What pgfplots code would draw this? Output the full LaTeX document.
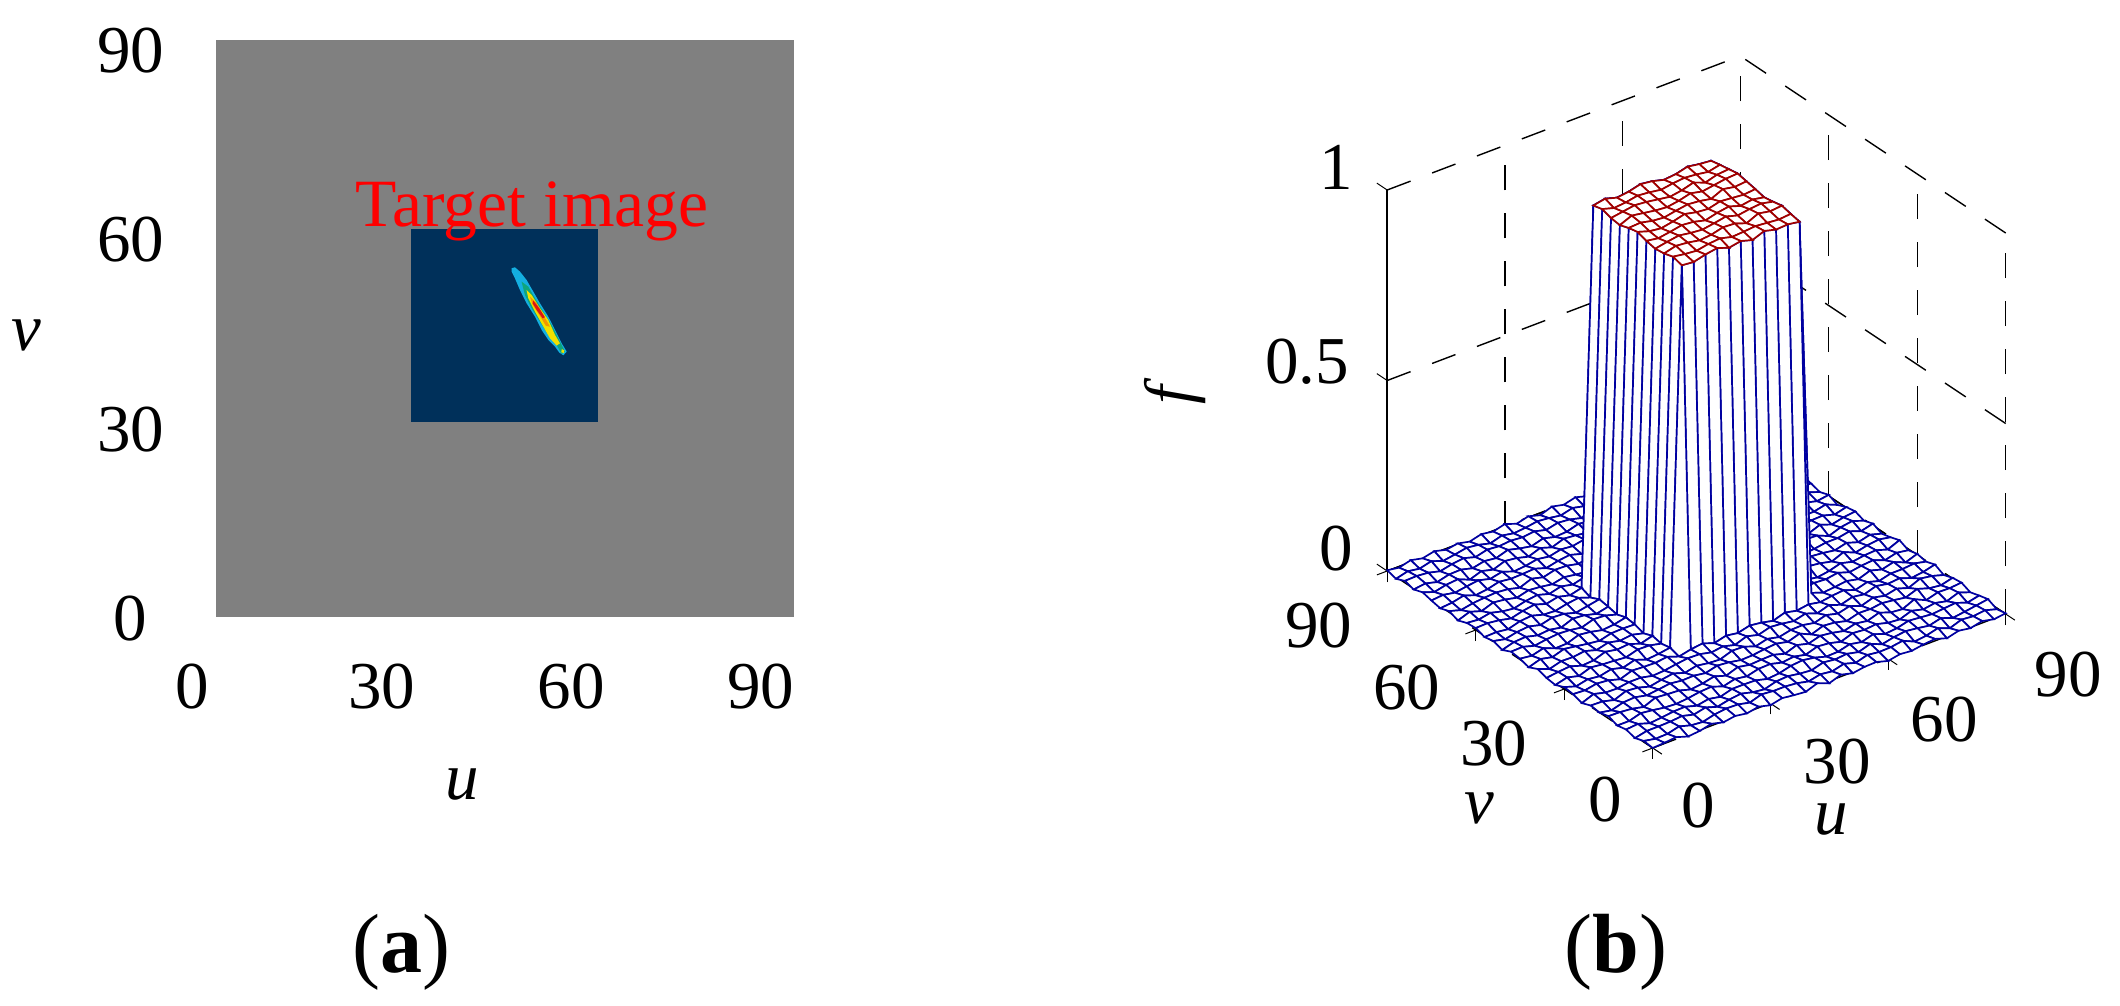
\documentclass[border=0pt]{standalone}
\usepackage{fontspec}
\setmainfont{Liberation Serif}
\usepackage{pgfplots}
\pgfplotsset{compat=1.18}
\newcommand{\tl}[3]{\smash{\raisebox{\dimexpr#2pt-11.3pt\relax}{\hbox to 0pt{\hss\kern#1pt\kern#1pt #3\hss}}}}
\definecolor{meshblue}{RGB}{0,0,160}
\definecolor{meshred}{RGB}{160,0,0}
\definecolor{imgdark}{RGB}{0,48,90}
\begin{document}
\begin{tikzpicture}
\fontsize{33.5}{40}\selectfont
\useasboundingbox (0pt,0pt) rectangle (1060pt,503pt);
\begin{axis}[at={(96pt,194pt)},anchor=south west,scale only axis,width=284.5pt,height=284pt,
  xmin=0,xmax=90,ymin=0,ymax=90,clip=false,
  axis line style={draw=none},tick style={draw=none},
  xtick={0,30,60,90},ytick={0,30,60,90},
  xticklabels={\tl{0}{-33.85}{0},\tl{0}{-33.85}{30},\tl{0}{-33.85}{60},\tl{0}{-33.85}{90}},
  yticklabels={\tl{-30.65}{0}{0},\tl{-30.65}{0}{30},\tl{-30.65}{0}{60},\tl{-30.65}{0}{90}},
  every tick label/.append style={anchor=center,inner sep=0pt},
  xlabel={\textit{u}},ylabel={\textit{v}},
  xlabel style={at={(axis description cs:.4757,-.294)},anchor=center},
  ylabel style={at={(axis description cs:-.2905,.498)},anchor=center,rotate=-90},
]
\addplot[draw=none,fill={rgb,255:red,128;green,128;blue,128}] coordinates {(3.8,.16) (95.2,.16) (95.2,91.6) (3.8,91.6)};
\addplot[draw=none,fill=imgdark] coordinates {(34.64,31.06) (64.2,31.06) (64.2,61.64) (34.64,61.64)};
\addplot[draw=none,fill={rgb,255:red,20;green,175;blue,225}] coordinates {(50.55,55.42) (51.08,55.57) (51.87,54.89) (52.92,53.57) (53.98,51.72) (55.04,49.87) (56.36,47.75) (57.42,45.64) (58.47,43.53) (59.27,42.21) (58.74,41.63) (58.1,42.05) (57.42,43) (56.36,44.06) (55.3,45.64) (54.25,47.75) (52.92,49.87) (51.87,51.98) (51.08,53.83) (50.55,54.89)};
\addplot[draw=none,fill={rgb,255:red,15;green,165;blue,125}] coordinates {(52.13,53.3) (53.19,52.51) (54.25,50.66) (55.57,48.55) (56.89,46.43) (57.94,44.32) (59,42.21) (58.47,41.84) (57.68,43.26) (56.36,44.85) (55.04,46.96) (53.72,49.08) (52.66,51.19)};
\addplot[draw=none,fill={rgb,255:red,240;green,225;blue,0}] coordinates {(52.92,51.98) (53.72,51.19) (55.04,49.08) (56.36,47.23) (57.42,44.85) (58.2,43.53) (57.68,43.16) (56.62,44.32) (55.57,46.17) (54.25,48.55) (53.19,50.66)};
\addplot[draw=none,fill={rgb,255:red,245;green,150;blue,0}] coordinates {(53.45,50.92) (54.51,49.87) (55.57,48.02) (56.62,46.17) (55.99,46.28) (54.93,48.02) (53.88,49.6)};
\addplot[draw=none,fill={rgb,255:red,220;green,20;blue,20}] coordinates {(53.98,50.29) (54.93,49.08) (55.83,47.65) (55.46,47.49) (54.51,48.81) (53.88,49.87)};
\addplot[draw=none,fill={rgb,255:red,240;green,225;blue,0}] coordinates {(58.5,42.6) (58.9,42.4) (58.8,42) (58.4,42.1)};
\node[red,anchor=base,font=\fontsize{33.8}{40}\selectfont] at (axis cs:53.8,62) {Target image};
\end{axis}
\begin{axis}[at={(693.6pt,129pt)},anchor=south west,
  x={(1.9611pt,.7444pt)},y={(-1.475pt,.9833pt)},z={(0pt,190.5pt)},
  xmin=0,xmax=90,ymin=0,ymax=90,zmin=0,zmax=1,clip=false,
  axis line style={draw=none},
  tick style={black,line width=.5pt},major tick length=11pt,tick align=center,
  xtick pos=lower,ytick pos=lower,ztick pos=left,ztick style={draw=none},
  grid=major,grid style={black,line width=.7pt,dash pattern=on 12.5pt off 11.5pt},
  xtick={0,30,60,90},ytick={0,30,60,90},ztick={0,.5,1},
  xticklabels={\tl{18}{-25.5}{0},\tl{28.8}{-25.9}{30},\tl{23.4}{-27}{60},\tl{26.6}{-27}{90}},
  yticklabels={\tl{-18.6}{-23.5}{0},\tl{-30.1}{-24.9}{30},\tl{-29.4}{-26.5}{60},\tl{-29.1}{-24.9}{90}},
  zticklabels={\tl{-21}{8.6}{0},\tl{-35.5}{6.6}{0.5},\tl{-21}{8.6}{1}},
  every tick label/.append style={anchor=center,inner sep=0pt},
  xlabel={\textit{u}},ylabel={\textit{v}},
  xlabel style={at={(rel axis cs:.5,0,0)},anchor=center,xshift=1.25pt,yshift=-69.5pt,rotate=0},
  ylabel style={at={(rel axis cs:0,.5,0)},anchor=center,xshift=-20.4pt,yshift=-74.4pt,rotate=0},
  colormap={whitemap}{color=(white) color=(white)},point meta=0,point meta min=0,point meta max=1,
]
\node[anchor=center,xshift=-106pt,yshift=-5.6pt,rotate=90] at (axis cs:0,90,.5) {\textit{f}};
\addplot3[black,line width=.85pt] coordinates {(0,90,0) (0,90,1)};
\addplot3[black,line width=.5pt] coordinates {(0,90,1) (0,93.5,1)};
\addplot3[black,line width=.5pt] coordinates {(0,90,.5) (0,93.5,.5)};
\addplot3[black,line width=.5pt] coordinates {(0,90,0) (0,93.5,0)};
\addplot3[surf,shader=faceted,faceted color=meshblue,line width=.85pt,z buffer=none,mesh/rows=31,mesh/cols=31] table {
90 90 .003
90 87 -.005
90 84 .006
90 81 .002
90 78 -.006
90 75 .005
90 72 -.003
90 69 .008
90 66 .002
90 63 -.005
90 60 .003
90 57 -.008
90 54 .002
90 51 .006
90 48 -.003
90 45 .005
90 42 -.006
90 39 .000
90 36 .008
90 33 -.003
90 30 .003
90 27 -.002
90 24 .006
90 21 -.006
90 18 .002
90 15 .005
90 12 -.005
90 9 .002
90 6 .008
90 3 -.003
90 0 .002
87 90 -.003
87 87 .006
87 84 -.002
87 81 .005
87 78 .008
87 75 -.005
87 72 .002
87 69 -.006
87 66 .003
87 63 .006
87 60 -.002
87 57 .005
87 54 -.006
87 51 .002
87 48 .008
87 45 -.003
87 42 .003
87 39 .006
87 36 -.005
87 33 .002
87 30 -.008
87 27 .005
87 24 -.002
87 21 .003
87 18 -.006
87 15 .002
87 12 .006
87 9 -.005
87 6 .003
87 3 .006
87 0 -.002
84 90 .005
84 87 -.003
84 84 .008
84 81 -.006
84 78 .002
84 75 .005
84 72 -.003
84 69 .006
84 66 -.008
84 63 .002
84 60 .006
84 57 -.002
84 54 .003
84 51 -.005
84 48 .003
84 45 .008
84 42 -.005
84 39 .002
84 36 .005
84 33 -.006
84 30 .005
84 27 .002
84 24 -.006
84 21 .008
84 18 -.002
84 15 .003
84 12 -.005
84 9 .006
84 6 -.002
84 3 .002
84 0 .005
81 90 -.002
81 87 .003
81 84 -.006
81 81 .002
81 78 .006
81 75 -.005
81 72 .005
81 69 -.002
81 66 .003
81 63 -.006
81 60 .008
81 57 -.003
81 54 .002
81 51 .006
81 48 -.008
81 45 .002
81 42 .005
81 39 -.005
81 36 .003
81 33 .006
81 30 -.003
81 27 .002
81 24 .005
81 21 -.005
81 18 .008
81 15 -.006
81 12 .002
81 9 .003
81 6 -.006
81 3 .005
81 0 -.002
78 90 .005
78 87 -.005
78 84 .002
78 81 .006
78 78 -.003
78 75 .008
78 72 -.006
78 69 .003
78 66 .002
78 63 .005
78 60 -.005
78 57 .006
78 54 -.002
78 51 -.006
78 48 .005
78 45 .002
78 42 -.003
78 39 .008
78 36 -.002
78 33 .003
78 30 .006
78 27 -.006
78 24 .002
78 21 .005
78 18 -.003
78 15 .008
78 12 -.003
78 9 .000
78 6 .005
78 3 -.006
78 0 .003
75 90 -.006
75 87 .002
75 84 .005
75 81 -.003
75 78 .008
75 75 -.002
75 72 .003
75 69 -.005
75 66 .006
75 63 -.002
75 60 .003
75 57 .002
75 54 -.008
75 51 .005
75 48 .006
75 45 -.003
75 42 .002
75 39 -.005
75 36 .006
75 33 -.002
75 30 -.005
75 27 .003
75 24 .008
75 21 -.002
75 18 .002
75 15 -.006
75 12 .005
75 9 .003
75 6 -.003
75 3 .006
75 0 -.005
72 90 .002
72 87 .006
72 84 -.005
72 81 .002
72 78 -.006
72 75 .005
72 72 .003
72 69 -.002
72 66 -.006
72 63 .008
72 60 .002
72 57 -.005
72 54 .006
72 51 -.002
72 48 .003
72 45 -.006
72 42 .005
72 39 .002
72 36 -.003
72 33 .008
72 30 .002
72 27 -.006
72 24 -.002
72 21 .005
72 18 .006
72 15 -.003
72 12 -.006
72 9 .006
72 6 .002
72 3 -.002
72 0 .005
69 90 -.005
69 87 .002
69 84 .006
69 81 -.003
69 78 .005
69 75 -.008
69 72 .006
69 69 .002
69 66 .003
69 63 -.005
69 60 .003
69 57 .008
69 54 -.002
69 51 -.006
69 48 .005
69 45 .002
69 42 -.003
69 39 .006
69 36 -.008
69 33 .003
69 30 -.002
69 27 .005
69 24 .003
69 21 -.005
69 18 .002
69 15 .008
69 12 -.003
69 9 -.002
69 6 .006
69 3 -.006
69 0 .002
66 90 .006
66 87 -.003
66 84 -.002
66 81 .006
66 78 .002
66 75 -.005
66 72 .002
66 69 .005
66 66 -.006
66 63 .003
66 60 -.002
66 57 .005
66 54 .006
66 51 -.003
66 48 .002
66 45 -.006
66 42 .008
66 39 .003
66 36 -.002
66 33 .005
66 30 -.005
66 27 .002
66 24 -.006
66 21 .006
66 18 .003
66 15 -.002
66 12 .005
66 9 -.005
66 6 .002
66 3 .008
66 0 -.003
63 90 -.002
63 87 .005
63 84 .003
63 81 -.006
63 78 .003
63 75 .006
63 72 -.002
63 69 -.005
63 66 .006
63 63 .002
63 60 .005
63 57 -.003
63 54 .002
63 51 .006
63 48 -.005
63 45 .003
63 42 .002
63 39 -.006
63 36 .005
63 33 .002
63 30 .006
63 27 -.003
63 24 .005
63 21 -.002
63 18 -.006
63 15 .003
63 12 .002
63 9 .006
63 6 -.005
63 3 .003
63 0 .000
60 90 .003
60 87 -.006
60 84 .002
60 81 .005
60 78 -.002
60 75 .000
60 72 .006
60 69 -.003
60 66 .002
60 63 -.005
60 60 .997
60 57 1.002
60 54 1.006
60 51 1.010
60 48 1.005
60 45 1
60 42 .994
60 39 .998
60 36 1.003
60 33 .997
60 30 .992
60 27 .003
60 24 -.005
60 21 .006
60 18 .002
60 15 -.005
60 12 .005
60 9 -.003
60 6 .008
60 3 .002
60 0 -.006
57 90 -.005
57 87 .003
57 84 .008
57 81 -.002
57 78 .005
57 75 -.006
57 72 .002
57 69 .006
57 66 -.005
57 63 .003
57 60 1
57 57 .995
57 54 1.003
57 51 1.008
57 48 1.002
57 45 .997
57 42 1
57 39 1.005
57 36 1
57 33 .994
57 30 .997
57 27 -.002
57 24 .006
57 21 -.003
57 18 .005
57 15 .002
57 12 -.006
57 9 .003
57 6 -.002
57 3 .006
57 0 .003
54 90 .002
54 87 .006
54 84 -.005
54 81 .003
54 78 -.006
54 75 .005
54 72 .002
54 69 -.003
54 66 .006
54 63 -.002
54 60 1.005
54 57 1
54 54 .994
54 51 1.003
54 48 1.008
54 45 1
54 42 .995
54 39 1.002
54 36 1.006
54 33 .997
54 30 .995
54 27 .005
54 24 -.002
54 21 .003
54 18 -.006
54 15 .006
54 12 .002
54 9 -.005
54 6 .005
54 3 -.003
54 0 .002
51 90 -.003
51 87 .002
51 84 .005
51 81 -.006
51 78 .003
51 75 .002
51 72 -.005
51 69 .005
51 66 -.002
51 63 .006
51 60 .997
51 57 1.003
51 54 1.006
51 51 .998
51 48 .994
51 45 1.003
51 42 1.005
51 39 .997
51 36 .992
51 33 1
51 30 1.003
51 27 -.005
51 24 .003
51 21 .002
51 18 .008
51 15 -.003
51 12 .005
51 9 -.006
51 6 .002
51 3 .006
51 0 -.003
48 90 .006
48 87 -.002
48 84 .003
48 81 .002
48 78 -.005
48 75 .006
48 72 .003
48 69 -.006
48 66 .002
48 63 -.003
48 60 .994
48 57 1
48 54 .997
48 51 1.005
48 48 1
48 45 .995
48 42 1
48 39 1.006
48 36 1.003
48 33 .997
48 30 .991
48 27 .002
48 24 .006
48 21 -.005
48 18 -.002
48 15 .005
48 12 -.005
48 9 .003
48 6 .006
48 3 -.002
48 0 .005
45 90 -.002
45 87 .005
45 84 -.006
45 81 .002
45 78 .008
45 75 -.003
45 72 .000
45 69 .005
45 66 -.005
45 63 .003
45 60 1.002
45 57 .995
45 54 .992
45 51 .997
45 48 1.003
45 45 .998
45 42 .992
45 39 1
45 36 1.005
45 33 .995
45 30 1
45 27 .006
45 24 -.003
45 21 .002
45 18 .005
45 15 -.006
45 12 .002
45 9 .008
45 6 -.003
45 3 .002
45 0 -.006
42 90 .005
42 87 -.003
42 84 .002
42 81 .006
42 78 -.002
42 75 -.005
42 72 .003
42 69 .002
42 66 .006
42 63 -.006
42 60 1.006
42 57 1
42 54 .997
42 51 .992
42 48 .998
42 45 1.005
42 42 1
42 39 .995
42 36 .997
42 33 1.003
42 30 .994
42 27 -.002
42 24 .005
42 21 -.006
42 18 .002
42 15 .003
42 12 -.002
42 9 .005
42 6 .000
42 3 -.005
42 0 .006
39 90 -.006
39 87 .002
39 84 .005
39 81 -.003
39 78 .003
39 75 .008
39 72 -.002
39 69 .003
39 66 -.005
39 63 .002
39 60 .998
39 57 1.003
39 54 1.002
39 51 .995
39 48 .992
39 45 .997
39 42 1.003
39 39 .998
39 36 .994
39 33 1
39 30 1.005
39 27 .003
39 24 -.006
39 21 .005
39 18 -.002
39 15 .002
39 12 .006
39 9 -.003
39 6 .005
39 3 .002
39 0 -.005
36 90 .003
36 87 .005
36 84 -.002
36 81 -.005
36 78 .006
36 75 .002
36 72 -.003
36 69 .006
36 66 .002
36 63 -.003
36 60 .994
36 57 .997
36 54 1.005
36 51 1
36 48 .995
36 45 .991
36 42 .997
36 39 1.003
36 36 1
36 33 .994
36 30 1
36 27 -.005
36 24 .002
36 21 .006
36 18 -.003
36 15 .000
36 12 .005
36 9 -.006
36 6 .003
36 3 .005
36 0 -.002
33 90 -.005
33 87 .000
33 84 .006
33 81 .003
33 78 -.005
33 75 .005
33 72 .006
33 69 -.002
33 66 -.006
33 63 .005
33 60 1.003
33 57 .994
33 54 1
33 51 1.005
33 48 1.002
33 45 .995
33 42 .992
33 39 .998
33 36 1.003
33 33 .997
33 30 .992
33 27 .006
33 24 -.002
33 21 -.005
33 18 .003
33 15 .006
33 12 -.003
33 9 .002
33 6 -.006
33 3 .005
33 0 .002
30 90 .006
30 87 -.003
30 84 .002
30 81 -.006
30 78 .005
30 75 -.002
30 72 .002
30 69 .005
30 66 -.003
30 63 .006
30 60 .997
30 57 1.003
30 54 .995
30 51 .992
30 48 1
30 45 1.005
30 42 .997
30 39 .992
30 36 .995
30 33 1.002
30 30 .995
30 27 .002
30 24 .005
30 21 -.003
30 18 .006
30 15 -.005
30 12 .002
30 9 .003
30 6 -.002
30 3 .008
30 0 -.005
27 90 -.002
27 87 .003
27 84 .005
27 81 .000
27 78 -.006
27 75 .003
27 72 -.005
27 69 .006
27 66 .002
27 63 -.002
27 60 .005
27 57 -.005
27 54 .006
27 51 .002
27 48 -.003
27 45 .005
27 42 .002
27 39 -.006
27 36 .003
27 33 -.002
27 30 .003
27 27 -.005
27 24 .006
27 21 .002
27 18 -.002
27 15 .005
27 12 -.006
27 9 .003
27 6 .006
27 3 -.002
27 0 .003
24 90 .003
24 87 -.006
24 84 .002
24 81 .008
24 78 .002
24 75 -.003
24 72 .005
24 69 -.002
24 66 -.005
24 63 .005
24 60 -.003
24 57 .006
24 54 .000
24 51 -.005
24 48 .006
24 45 -.002
24 42 .003
24 39 .002
24 36 -.006
24 33 .005
24 30 -.002
24 27 .006
24 24 .002
24 21 -.005
24 18 .003
24 15 -.002
24 12 .005
24 9 -.006
24 6 .002
24 3 .005
24 0 -.003
21 90 -.005
21 87 .002
21 84 .005
21 81 -.002
21 78 .006
21 75 -.006
21 72 .003
21 69 .006
21 66 .000
21 63 -.003
21 60 .005
21 57 .002
21 54 -.006
21 51 .003
21 48 .008
21 45 -.005
21 42 .002
21 39 -.002
21 36 .005
21 33 .006
21 30 -.005
21 27 .002
21 24 -.003
21 21 .005
21 18 .002
21 15 -.006
21 12 .003
21 9 .000
21 6 -.005
21 3 .006
21 0 .002
18 90 .002
18 87 .006
18 84 -.003
18 81 .002
18 78 -.005
18 75 .005
18 72 .002
18 69 -.006
18 66 .003
18 63 .006
18 60 -.002
18 57 -.005
18 54 .003
18 51 .006
18 48 -.002
18 45 .002
18 42 -.006
18 39 .005
18 36 .002
18 33 -.003
18 30 .006
18 27 .003
18 24 -.005
18 21 .000
18 18 .006
18 15 .003
18 12 -.002
18 9 -.006
18 6 .005
18 3 .002
18 0 -.003
15 90 -.003
15 87 .000
15 84 .006
15 81 -.005
15 78 .003
15 75 -.002
15 72 .006
15 69 .002
15 66 -.005
15 63 .002
15 60 .008
15 57 -.003
15 54 .005
15 51 -.006
15 48 .003
15 45 .006
15 42 -.002
15 39 -.003
15 36 .008
15 33 .000
15 30 -.003
15 27 .005
15 24 .002
15 21 -.006
15 18 .002
15 15 .005
15 12 -.005
15 9 .003
15 6 -.002
15 3 -.006
15 0 .005
12 90 .005
12 87 -.005
12 84 .002
12 81 .003
12 78 -.008
12 75 .006
12 72 -.002
12 69 .005
12 66 .002
12 63 -.006
12 60 .003
12 57 .006
12 54 -.003
12 51 .000
12 48 .005
12 45 -.005
12 42 .003
12 39 .006
12 36 -.003
12 33 .002
12 30 .005
12 27 -.006
12 24 .002
12 21 .003
12 18 -.002
12 15 .008
12 12 -.003
12 9 .002
12 6 .006
12 3 -.003
12 0 -.002
9 90 -.002
9 87 .006
9 84 -.005
9 81 .002
9 78 .005
9 75 .002
9 72 -.006
9 69 .003
9 66 .006
9 63 -.002
9 60 -.005
9 57 .003
9 54 .005
9 51 -.003
9 48 .002
9 45 -.006
9 42 .008
9 39 .002
9 36 -.005
9 33 .006
9 30 -.002
9 27 .003
9 24 -.003
9 21 .006
9 18 .005
9 15 -.005
9 12 .002
9 9 -.002
9 6 .003
9 3 .006
9 0 -.005
6 90 .005
6 87 -.002
6 84 .003
6 81 -.006
6 78 .002
6 75 -.003
6 72 .005
6 69 .000
6 66 -.005
6 63 .006
6 60 .002
6 57 -.006
6 54 .002
6 51 .005
6 48 -.003
6 45 .006
6 42 -.002
6 39 .003
6 36 .005
6 33 -.005
6 30 .002
6 27 .006
6 24 -.002
6 21 -.006
6 18 .003
6 15 .002
6 12 .006
6 9 -.005
6 6 .002
6 3 -.002
6 0 .005
3 90 -.003
3 87 .003
3 84 .006
3 81 .002
3 78 -.005
3 75 .003
3 72 -.002
3 69 -.006
3 66 .005
3 63 .000
3 60 .006
3 57 -.002
3 54 -.005
3 51 .003
3 48 .006
3 45 -.002
3 42 .005
3 39 -.006
3 36 .002
3 33 .003
3 30 -.005
3 27 .000
3 24 .006
3 21 .002
3 18 -.006
3 15 .005
3 12 -.003
3 9 .005
3 6 .002
3 3 -.003
3 0 .002
0 90 .002
0 87 -.005
0 84 .005
0 81 -.002
0 78 .006
0 75 .000
0 72 -.005
0 69 .003
0 66 -.006
0 63 .003
0 60 .005
0 57 -.003
0 54 .002
0 51 -.006
0 48 .005
0 45 .002
0 42 -.005
0 39 .006
0 36 -.002
0 33 -.005
0 30 .005
0 27 .002
0 24 -.006
0 21 .003
0 18 .000
0 15 .006
0 12 -.003
0 9 .002
0 6 -.005
0 3 .003
0 0 .000
};
\addplot3[surf,shader=faceted,faceted color=meshred,line width=.85pt,z buffer=none,mesh/rows=11,mesh/cols=11] table {
60 60 .997
60 57 1.002
60 54 1.006
60 51 1.010
60 48 1.005
60 45 1
60 42 .994
60 39 .998
60 36 1.003
60 33 .997
60 30 .992
57 60 1
57 57 .995
57 54 1.003
57 51 1.008
57 48 1.002
57 45 .997
57 42 1
57 39 1.005
57 36 1
57 33 .994
57 30 .997
54 60 1.005
54 57 1
54 54 .994
54 51 1.003
54 48 1.008
54 45 1
54 42 .995
54 39 1.002
54 36 1.006
54 33 .997
54 30 .995
51 60 .997
51 57 1.003
51 54 1.006
51 51 .998
51 48 .994
51 45 1.003
51 42 1.005
51 39 .997
51 36 .992
51 33 1
51 30 1.003
48 60 .994
48 57 1
48 54 .997
48 51 1.005
48 48 1
48 45 .995
48 42 1
48 39 1.006
48 36 1.003
48 33 .997
48 30 .991
45 60 1.002
45 57 .995
45 54 .992
45 51 .997
45 48 1.003
45 45 .998
45 42 .992
45 39 1
45 36 1.005
45 33 .995
45 30 1
42 60 1.006
42 57 1
42 54 .997
42 51 .992
42 48 .998
42 45 1.005
42 42 1
42 39 .995
42 36 .997
42 33 1.003
42 30 .994
39 60 .998
39 57 1.003
39 54 1.002
39 51 .995
39 48 .992
39 45 .997
39 42 1.003
39 39 .998
39 36 .994
39 33 1
39 30 1.005
36 60 .994
36 57 .997
36 54 1.005
36 51 1
36 48 .995
36 45 .991
36 42 .997
36 39 1.003
36 36 1
36 33 .994
36 30 1
33 60 1.003
33 57 .994
33 54 1
33 51 1.005
33 48 1.002
33 45 .995
33 42 .992
33 39 .998
33 36 1.003
33 33 .997
33 30 .992
30 60 .997
30 57 1.003
30 54 .995
30 51 .992
30 48 1
30 45 1.005
30 42 .997
30 39 .992
30 36 .995
30 33 1.002
30 30 .995
};
\end{axis}
\node[anchor=base,font=\fontsize{42}{50}\selectfont] at (200.85pt,16.5pt) {(\textbf{a})};
\node[anchor=base,font=\fontsize{42}{50}\selectfont] at (808pt,16.5pt) {(\textbf{b})};
\end{tikzpicture}
\end{document}
